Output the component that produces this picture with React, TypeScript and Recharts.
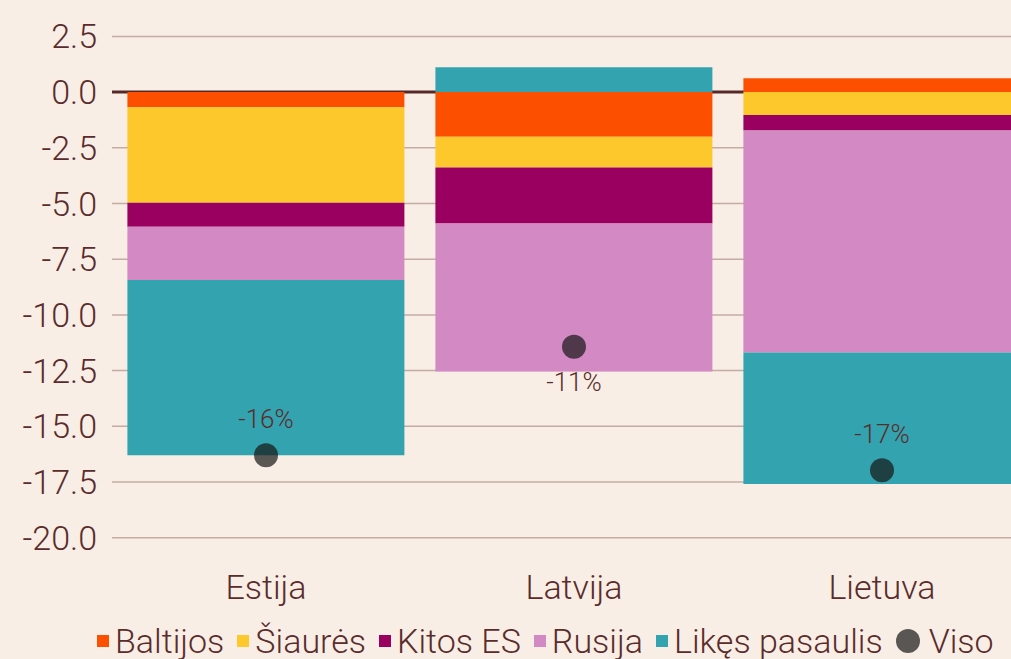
import React from 'react';
import {
  ComposedChart,
  Bar,
  Line,
  XAxis,
  YAxis,
  CartesianGrid,
  Legend,
  LabelList
} from 'recharts';

// Countries and their contributions (percentage points)
const countries = ['Estija', 'Latvija', 'Lietuva'];
const baltijos = [-0.68, -2.0, 0.62];
const siaures = [-4.28, -1.38, -1.03];
const kitosEs = [-1.08, -2.52, -0.69];
const rusija = [-2.39, -6.64, -9.97];
const likes = [-7.87, 1.12, -5.9];
const viso = [-16.3, -11.43, -16.97];

const yTicks = [2.5, 0, -2.5, -5, -7.5, -10, -12.5, -15, -17.5, -20];

const series = [
  { key: 'baltijos', name: 'Baltijos', color: '#fc5000' },
  { key: 'siaures', name: 'Šiaurės', color: '#fdc82c' },
  { key: 'kitosEs', name: 'Kitos ES', color: '#990060' },
  { key: 'rusija', name: 'Rusija', color: '#d389c4' },
  { key: 'likes', name: 'Likęs pasaulis', color: '#33a3af' },
];

const data = countries.map((c, i) => ({
  name: c,
  baltijos: baltijos[i],
  siaures: siaures[i],
  kitosEs: kitosEs[i],
  rusija: rusija[i],
  likes: likes[i],
  viso: viso[i],
}));

// label goes above the dot except for Latvija
const labelBelow = [false, true, false];

const FONT = 'Roboto, "Noto Sans", sans-serif';
const TEXT = '#5a2c2c';

const TotalLabel = (props: any) => {
  const { x, y, value, index } = props;
  const dy = labelBelow[index] ? 35 : -36;
  return (
    <text
      x={x}
      y={y + dy}
      textAnchor="middle"
      dominantBaseline="central"
      fontSize={26}
      fontWeight={300}
      fontFamily={FONT}
      fill={TEXT}
    >
      {`${Math.round(value)}%`}
    </text>
  );
};

const CustomLegend = () => (
  <div
    style={{
      display: 'flex',
      alignItems: 'center',
      paddingLeft: 97,
      fontFamily: FONT,
      fontWeight: 300,
      fontSize: 34,
      lineHeight: '40px',
      color: TEXT,
      whiteSpace: 'nowrap',
    }}
  >
    {series.map((s) => (
      <div key={s.key} style={{ display: 'flex', alignItems: 'center', marginRight: 13 }}>
        <div style={{ width: 12, height: 12, background: s.color, marginRight: 6 }} />
        <span>{s.name}</span>
      </div>
    ))}
    <div style={{ display: 'flex', alignItems: 'center' }}>
      <div
        style={{
          width: 24,
          height: 24,
          borderRadius: 12,
          background: '#151515',
          opacity: 0.7,
          marginRight: 9,
        }}
      />
      <span>Viso</span>
    </div>
  </div>
);

export default function App() {
  return (
    <div
      style={{
        position: 'absolute',
        left: 0,
        top: 0,
        width: 1011,
        height: 659,
        overflow: 'hidden',
        background: '#f9eee5',
      }}
    >
      <ComposedChart
        width={1036}
        height={696}
        data={data}
        stackOffset="sign"
        barCategoryGap="5%"
        margin={{ top: 3, right: 0, bottom: 0, left: 0 }}
      >
        <CartesianGrid
          vertical={false}
          horizontalValues={yTicks}
          stroke="#c4aca4"
          strokeWidth={1.5}
        />
        {/* zero line sits behind the bars */}
        <CartesianGrid
          vertical={false}
          horizontalValues={[0]}
          stroke="#55282a"
          strokeWidth={3}
        />
        <XAxis
          dataKey="name"
          axisLine={false}
          tickLine={false}
          tickMargin={9}
          height={96}
          tick={{ fontSize: 34, fontWeight: 300, fontFamily: FONT, fill: TEXT }}
        />
        <YAxis
          domain={[-21, 4]}
          ticks={yTicks}
          interval={0}
          width={112}
          axisLine={false}
          tickLine={false}
          tickSize={0}
          tickMargin={15}
          tickFormatter={(v: number) => v.toFixed(1)}
          tick={{ fontSize: 34, fontWeight: 300, fontFamily: FONT, fill: TEXT }}
        />
        {series.map((s) => (
          <Bar
            key={s.key}
            dataKey={s.key}
            name={s.name}
            stackId="a"
            fill={s.color}
            isAnimationActive={false}
          />
        ))}
        <Line
          dataKey="viso"
          name="Viso"
          stroke="none"
          isAnimationActive={false}
          dot={{ r: 12, fill: '#151515', fillOpacity: 0.7, stroke: 'none' }}
          activeDot={false}
        >
          <LabelList dataKey="viso" content={<TotalLabel />} />
        </Line>
        <Legend
          verticalAlign="bottom"
          content={<CustomLegend />}
          wrapperStyle={{ left: 0, width: 1011, bottom: 35 }}
        />
      </ComposedChart>
    </div>
  );
}
